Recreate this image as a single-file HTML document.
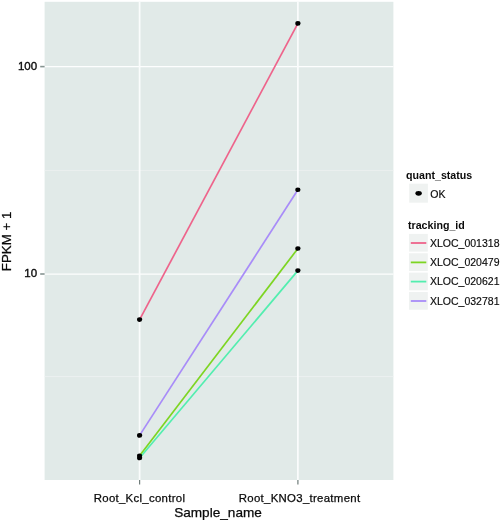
<!DOCTYPE html>
<html><head><meta charset="utf-8">
<style>
html,body{margin:0;padding:0;background:#fff;}
body{width:500px;height:520px;overflow:hidden;}
svg{display:block;font-family:"Liberation Sans",Arial,Helvetica,sans-serif;}
</style></head><body>
<svg width="500" height="520" viewBox="0 0 500 520">
<rect x="0" y="0" width="500" height="520" fill="#ffffff"/>
<!-- panel -->
<rect x="44.6" y="1.8" width="348.8" height="478.2" fill="#e1eae8"/>
<!-- minor grid -->
<line x1="44.6" x2="393.4" y1="170.4" y2="170.4" stroke="#edf1f1" stroke-width="0.8"/>
<line x1="44.6" x2="393.4" y1="376.6" y2="376.6" stroke="#edf1f1" stroke-width="0.8"/>
<!-- major grid -->
<line x1="44.6" x2="393.4" y1="66.6" y2="66.6" stroke="#fdfefe" stroke-width="1.25"/>
<line x1="44.6" x2="393.4" y1="274" y2="274" stroke="#fdfefe" stroke-width="1.25"/>
<line x1="139.6" x2="139.6" y1="1.8" y2="480" stroke="#fafcfc" stroke-width="1.75"/>
<line x1="297.9" x2="297.9" y1="1.8" y2="480" stroke="#fafcfc" stroke-width="1.75"/>
<!-- lines -->
<g stroke-width="1.7" stroke-linecap="butt" fill="none">
<line x1="139.6" y1="319.6" x2="297.9" y2="23.4" stroke="#ee648b"/>
<line x1="139.6" y1="455.8" x2="297.9" y2="248.5" stroke="#7dd522"/>
<line x1="139.6" y1="458" x2="297.9" y2="270.6" stroke="#52eeaf"/>
<line x1="139.6" y1="435.4" x2="297.9" y2="189.8" stroke="#a88cf8"/>
</g>
<!-- points -->
<g fill="#000">
<ellipse cx="139.6" cy="319.6" rx="2.6" ry="2.3"/>
<ellipse cx="139.6" cy="435.4" rx="2.6" ry="2.3"/>
<ellipse cx="139.6" cy="455.8" rx="2.6" ry="2.3"/>
<ellipse cx="139.6" cy="458" rx="2.6" ry="2.3"/>
<ellipse cx="297.9" cy="23.4" rx="2.6" ry="2.3"/>
<ellipse cx="297.9" cy="189.8" rx="2.6" ry="2.3"/>
<ellipse cx="297.9" cy="248.5" rx="2.6" ry="2.3"/>
<ellipse cx="297.9" cy="270.6" rx="2.6" ry="2.3"/>
</g>
<!-- ticks -->
<g stroke="#869491" stroke-width="1.6">
<line x1="40.2" x2="44.6" y1="66.6" y2="66.6"/>
<line x1="40.2" x2="44.6" y1="274" y2="274"/>
<line x1="139.6" x2="139.6" y1="480" y2="484.4" stroke="#6f7c7a" stroke-width="1.2"/>
<line x1="297.9" x2="297.9" y1="480" y2="484.4" stroke="#6f7c7a" stroke-width="1.2"/>
</g>
<!-- axis text -->
<g font-size="12px" fill="#0a0a0a" stroke="#0a0a0a" stroke-width="0.25">
<text x="37.1" y="70" text-anchor="end" font-size="11.5px" stroke-width="0.35">100</text>
<text x="37.1" y="277" text-anchor="end" font-size="11.5px" stroke-width="0.35">10</text>
<text x="139.5" y="502" text-anchor="middle" font-size="11.4px" letter-spacing="0.3">Root_Kcl_control</text>
<text x="299.6" y="502" text-anchor="middle" font-size="11.4px" letter-spacing="0.3">Root_KNO3_treatment</text>
</g>
<g font-size="13.6px" fill="#0a0a0a" stroke="#0a0a0a" stroke-width="0.25">
<text x="218" y="516.6" text-anchor="middle">Sample_name</text>
<text transform="translate(11.1,241.4) rotate(-90)" text-anchor="middle" font-size="13.3px">FPKM + 1</text>
</g>
<!-- legend -->
<g font-size="10.65px" fill="#0a0a0a">
<text x="406" y="179" font-weight="bold">quant_status</text>
<rect x="409.2" y="183.7" width="18.7" height="19" fill="#eff2f1"/>
<ellipse cx="418.6" cy="193.3" rx="3.2" ry="2.35" fill="#000"/>
<text x="430.2" y="198" font-size="10.55px" stroke="#0a0a0a" stroke-width="0.15">OK</text>
<text x="408" y="228.6" font-weight="bold">tracking_id</text>
<rect x="409" y="233.90" width="18.8" height="17.7" fill="#eff2f1"/>
<rect x="409" y="253.27" width="18.8" height="17.7" fill="#eff2f1"/>
<rect x="409" y="272.64" width="18.8" height="17.7" fill="#eff2f1"/>
<rect x="409" y="292.01" width="18.8" height="17.7" fill="#eff2f1"/>

<g stroke-width="1.8">
<line x1="410.8" x2="426.3" y1="243" y2="243" stroke="#ee648b"/>
<line x1="410.8" x2="426.3" y1="262.4" y2="262.4" stroke="#7dd522"/>
<line x1="410.8" x2="426.3" y1="281.6" y2="281.6" stroke="#52eeaf"/>
<line x1="410.8" x2="426.3" y1="301" y2="301" stroke="#a88cf8"/>
</g>
<g font-size="10.5px" stroke="#0a0a0a" stroke-width="0.15">
<text x="430" y="246.7">XLOC_001318</text>
<text x="430" y="266.1">XLOC_020479</text>
<text x="430" y="285.3">XLOC_020621</text>
<text x="430" y="304.7">XLOC_032781</text>
</g>
</g>
</svg>
</body></html>
